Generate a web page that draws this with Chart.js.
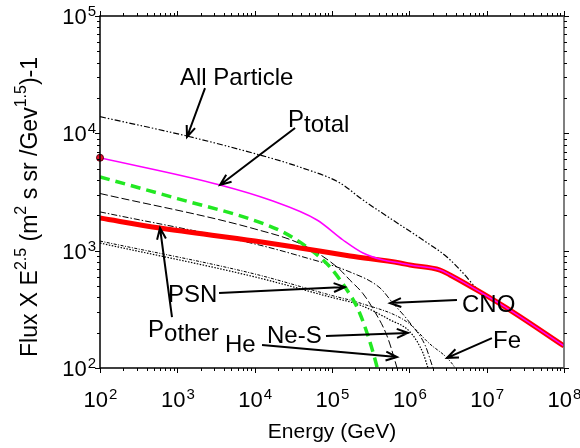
<!DOCTYPE html>
<html>
<head>
<meta charset="utf-8">
<script src="https://cdn.jsdelivr.net/npm/chart.js@4"></script>
<style>
  body { margin: 0; background: #fff; }
  #wrap { width: 580px; height: 448px; }
</style>
</head>
<body>
<div id="wrap"><canvas id="flujo" width="580" height="448"></canvas></div>
<script>
// valores (E en GeV, flujo x E^2.5)
const energia_total = [100, 1334, 11720, 38550, 126800, 251800, 615200, 1.503e6, 3.069e6, 4.943e6, 8.204e6, 2.193e7, 1e8];
const flujo_total = [13870, 9480, 6530, 5150, 3775, 2700, 1820, 1233, 883, 645, 445, 300, 154];

const energia_ptotal = [100, 3565, 15780, 63970, 138700, 251800, 457100, 756800, 1.021e6, 2.495e6, 3.357e6, 8.204e6, 2.193e7, 1e8];
const flujo_ptotal = [6190, 3630, 2700, 1825, 1233, 955, 832, 785, 755, 684, 621, 445, 300, 154];

const energia_pother = [100, 597, 10090, 38550, 171000, 756800, 1.021e6, 2.495e6, 3.357e6, 8.204e6, 2.193e7, 1e8];
const flujo_pother = [1897, 1560, 1208, 1055, 902, 785, 755, 684, 621, 445, 300, 154];

const energia_psn = [100, 1000, 8710, 23230, 47530, 94190, 156300, 210400, 283800, 381900, 398100];
const flujo_psn = [4250, 2780, 1860, 1442, 1073, 726, 462, 331, 199, 102, 90];

const energia_he = [100, 10090, 42170, 116100, 171000, 251800, 338800, 514000, 693400, 741300];
const flujo_he = [3070, 1530, 1117, 726, 560, 430, 320, 188, 100, 85];

const energia_cno = [100, 10090, 38550, 171000, 417800, 597000, 1.021e6, 1.596e6, 2.023e6, 2.213e6];
const flujo_cno = [2140, 1140, 900, 658, 481, 365, 242, 157, 100, 85];

const energia_nes = [100, 10090, 94190, 230100, 562300, 1.021e6, 1.503e6, 1.742e6, 1.849e6];
const flujo_nes = [1161, 597, 403, 344, 257, 203, 134, 100, 88];

const energia_fe = [100, 10090, 94190, 230100, 933300, 1.849e6, 3.069e6, 3.899e6, 4.266e6];
const flujo_fe = [1208, 632, 419, 358, 247, 160, 122, 100, 88];

const ticks_x = [1e2, 1e3, 1e4, 1e5, 1e6, 1e7, 1e8];
const ticks_y = [1e2, 1e3, 1e4, 1e5];

// etiquetas con flecha: texto, posicion, inicio y punta de la flecha (en unidades de datos)
const etiquetas = [
  { partes: [["All Particle", 0]], en: [1081, 25800], desde: [2280, 24300], hasta: [1334, 9310] },
  { partes: [["P", 0], ["total", 5]], en: [27000, 11330], desde: [33300, 11100], hasta: [3565, 3630] },
  { partes: [["PSN", 0]], en: [757, 365], desde: [3460, 436], hasta: [147000, 490] },
  { partes: [["P", 0], ["other", 4]], en: [418, 184], desde: [853, 272], hasta: [597, 1560] },
  { partes: [["He", 0]], en: [4130, 137], desde: [12450, 157], hasta: [693000, 124] },
  { partes: [["Ne-S", 0]], en: [14450, 163], desde: [83600, 187.5], hasta: [962000, 199] },
  { partes: [["CNO", 0]], en: [4.8e6, 300], desde: [4.13e6, 380], hasta: [562000, 358] },
  { partes: [["Fe", 0]], en: [1.21e7, 148], desde: [1.17e7, 180], hasta: [3.07e6, 122] },
];

const fuente = "'Liberation Sans', Arial, sans-serif";

function puntos(es, fs) {
  return es.map((e, i) => ({ x: e, y: fs[i] }));
}

function linea(es, fs, color, ancho, guiones) {
  return {
    data: puntos(es, fs),
    borderColor: color,
    borderWidth: ancho,
    borderDash: guiones,
    pointRadius: 0,
    fill: false,
    cubicInterpolationMode: "monotone",
    clip: 0,
  };
}

function potencia(ctx, valor, x, y, alinear) {
  const exp = String(Math.round(Math.log10(valor)));
  ctx.font = "22px " + fuente;
  const w10 = ctx.measureText("10").width;
  ctx.font = "15px " + fuente;
  const wexp = ctx.measureText(exp).width;
  let x0 = x - (w10 + wexp) / 2;
  if (alinear === "right") x0 = x - w10 - wexp;
  ctx.textAlign = "left";
  ctx.font = "22px " + fuente;
  ctx.fillText("10", x0, y);
  ctx.font = "15px " + fuente;
  ctx.fillText(exp, x0 + w10 + 1, y - 8);
}

function flecha(ctx, x1, y1, x2, y2) {
  const ang = Math.atan2(y2 - y1, x2 - x1);
  const largo = 12;
  ctx.beginPath();
  ctx.moveTo(x1, y1);
  ctx.lineTo(x2, y2);
  ctx.moveTo(x2 - largo * Math.cos(ang - 0.38), y2 - largo * Math.sin(ang - 0.38));
  ctx.lineTo(x2, y2);
  ctx.lineTo(x2 - largo * Math.cos(ang + 0.38), y2 - largo * Math.sin(ang + 0.38));
  ctx.stroke();
}

const plugin_ejes = {
  id: "ejesMarco",
  afterDatasetsDraw(chart) {
    const { ctx, chartArea: a } = chart;
    const sx = chart.scales.x;
    const sy = chart.scales.y;
    ctx.save();

    // marco
    ctx.lineWidth = 1.5;
    ctx.strokeStyle = "#000";
    ctx.beginPath();
    ctx.moveTo(a.right, a.top);
    ctx.lineTo(a.left, a.top);
    ctx.lineTo(a.left, a.bottom);
    ctx.lineTo(a.right, a.bottom);
    ctx.stroke();
    ctx.strokeStyle = "#555";
    ctx.beginPath();
    ctx.moveTo(a.right, a.top);
    ctx.lineTo(a.right, a.bottom);
    ctx.stroke();

    // marcas, hacia fuera
    ctx.lineWidth = 1;
    ctx.strokeStyle = "#000";
    const marcas = (lista) => {
      const out = [];
      lista.forEach((v, i) => {
        out.push([v, 5]);
        if (i < lista.length - 1) for (let m = 2; m <= 9; m++) out.push([v * m, 3]);
      });
      return out;
    };
    ctx.beginPath();
    marcas(ticks_x).forEach(([v, l]) => {
      const px = Math.round(sx.getPixelForValue(v)) + 0.5;
      ctx.moveTo(px, a.bottom);
      ctx.lineTo(px, a.bottom + l);
      ctx.moveTo(px, a.top);
      ctx.lineTo(px, a.top - l);
    });
    marcas(ticks_y).forEach(([v, l]) => {
      const py = Math.round(sy.getPixelForValue(v)) + 0.5;
      ctx.moveTo(a.left, py);
      ctx.lineTo(a.left - l, py);
      ctx.moveTo(a.right, py);
      ctx.lineTo(a.right + l, py);
    });
    ctx.stroke();

    // etiquetas de los ejes
    ctx.fillStyle = "#000";
    ctx.textBaseline = "alphabetic";
    ticks_x.forEach((v) => potencia(ctx, v, sx.getPixelForValue(v), a.bottom + 39));
    ticks_y.forEach((v) => potencia(ctx, v, a.left - 5, sy.getPixelForValue(v) + 8, "right"));

    ctx.font = "21px " + fuente;
    ctx.textAlign = "center";
    ctx.fillText("Energy (GeV)", (a.left + a.right) / 2, 438);

    // titulo vertical con exponentes
    const trozos = [["Flux X E", 0], ["2.5", 1], [" (m", 0], ["2", 1], [" s sr /Gev", 0], ["1.5", 1], [")-1", 0]];
    ctx.translate(37, 357);
    ctx.rotate(-Math.PI / 2);
    ctx.textAlign = "left";
    let cx = 0;
    trozos.forEach(([t, sup]) => {
      ctx.font = (sup ? "16px " : "23px ") + fuente;
      ctx.fillText(t, cx, sup ? -11 : 0);
      cx += ctx.measureText(t).width;
    });
    ctx.restore();

    // anotaciones con flechas
    ctx.save();
    ctx.fillStyle = "#000";
    ctx.strokeStyle = "#000";
    ctx.lineWidth = 2;
    ctx.textAlign = "left";
    etiquetas.forEach((et) => {
      let tx = sx.getPixelForValue(et.en[0]);
      const ty = sy.getPixelForValue(et.en[1]);
      et.partes.forEach(([t, baja]) => {
        ctx.font = "24px " + fuente;
        ctx.fillText(t, tx, ty + baja);
        tx += ctx.measureText(t).width;
      });
      flecha(
        ctx,
        sx.getPixelForValue(et.desde[0]),
        sy.getPixelForValue(et.desde[1]),
        sx.getPixelForValue(et.hasta[0]),
        sy.getPixelForValue(et.hasta[1])
      );
    });
    ctx.restore();
  },
};

const ctx = document.getElementById("flujo").getContext("2d");
const chart_flujo = new Chart(ctx, {
  type: "line",
  data: {
    datasets: [
      {
        data: [{ x: energia_ptotal[0], y: flujo_ptotal[0] }],
        pointRadius: 3.5,
        pointBackgroundColor: "#e8102a",
        pointBorderColor: "#5a0010",
        pointBorderWidth: 1,
        showLine: false,
        clip: false,
      },
      linea(energia_ptotal, flujo_ptotal, "#ff00ff", 1.5, []),
      linea(energia_pother, flujo_pother, "#ff0000", 5, []),
      linea(energia_psn, flujo_psn, "#22e822", 3.5, [10, 6]),
      linea(energia_total, flujo_total, "#000", 1.2, [6, 2, 1.5, 2, 1.5, 2]),
      linea(energia_he, flujo_he, "#000", 1, [8, 3]),
      linea(energia_cno, flujo_cno, "#000", 1, [6, 2, 1.5, 2]),
      linea(energia_nes, flujo_nes, "#000", 1.2, [1.5, 1.5]),
      linea(energia_fe, flujo_fe, "#000", 1, [3, 1.5, 1, 1.5]),
    ],
  },
  options: {
    responsive: false,
    animation: false,
    devicePixelRatio: 1,
    layout: { padding: { left: 100, top: 16, right: 16, bottom: 80 } },
    plugins: { legend: { display: false }, tooltip: { enabled: false } },
    scales: {
      x: { type: "logarithmic", min: 1e2, max: 1e8, display: false },
      y: { type: "logarithmic", min: 1e2, max: 1e5, display: false },
    },
  },
  plugins: [plugin_ejes],
});
</script>
</body>
</html>
